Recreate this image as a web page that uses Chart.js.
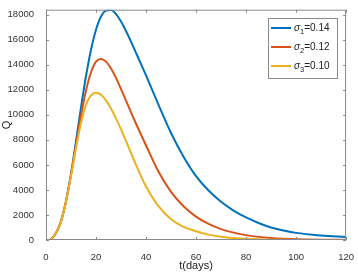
<!DOCTYPE html>
<html>
<head>
<meta charset="utf-8">
<script src="https://cdn.jsdelivr.net/npm/chart.js@4/dist/chart.umd.min.js"></script>
<style>
  html, body { margin: 0; padding: 0; background: #fff; }
  #wrap { width: 358px; height: 273px; }
</style>
</head>
<body>
<div id="wrap"><canvas id="q"></canvas></div>
<script>
// time axis (days) and Q for the three sigma values
const days = [0, 1, 2, 4, 6, 8, 10, 12, 14, 16, 18, 20, 22, 24, 26, 28, 30, 32, 34, 36, 38, 40,
              45, 50, 55, 60, 65, 70, 75, 80, 85, 90, 95, 100, 110, 120];
const q1 = [0, 0, 60, 560, 1500, 3100, 5300, 7900, 10600, 13100, 15200, 16800, 17850, 18330, 18380, 18050, 17450, 16700, 15850, 14950, 14050, 13150,
            10800, 8550, 6650, 5100, 3950, 3050, 2350, 1800, 1360, 1000, 760, 570, 360, 230];
const q2 = [0, 0, 60, 560, 1500, 3100, 5200, 7600, 9950, 11950, 13400, 14250, 14470, 14250, 13700, 12950, 12050, 11130, 10200, 9290, 8420, 7550,
            5450, 3850, 2700, 1870, 1280, 870, 590, 390, 250, 160, 100, 62, 25, 10];
const q3 = [0, 0, 60, 560, 1480, 3050, 5100, 7350, 9350, 10800, 11550, 11770, 11600, 11150, 10500, 9700, 8850, 7900, 6950, 6000, 5100, 4280,
            2700, 1650, 1050, 700, 430, 260, 155, 90, 50, 28, 15, 8, 2, 1];
const sigmaNames = ['1', '2', '3'];
const sigmaValues = ['0.14', '0.12', '0.10'];
const colors = ['#0072BD', '#D95319', '#EDB120'];
const xTicks = [0, 20, 40, 60, 80, 100, 120];
const yTicks = [0, 2000, 4000, 6000, 8000, 10000, 12000, 14000, 16000, 18000];

const series = [q1, q2, q3];

const boxPlugin = {
    id: 'matlabBox',
    afterDraw(chart) {
        const ctx = chart.ctx;
        const a = chart.chartArea;
        const xs = chart.scales.x, ys = chart.scales.y;
        ctx.save();
        ctx.strokeStyle = '#8a8a8a';
        ctx.lineWidth = 1;
        ctx.strokeRect(a.left + 0.5, a.top + 0.5, a.right - a.left - 1, a.bottom - a.top - 1);
        ctx.beginPath();
        xTicks.forEach(v => {
            const px = Math.round(xs.getPixelForValue(v)) + 0.5;
            ctx.moveTo(px, a.bottom); ctx.lineTo(px, a.bottom - 3);
            ctx.moveTo(px, a.top); ctx.lineTo(px, a.top + 3);
        });
        yTicks.forEach(v => {
            const py = Math.round(ys.getPixelForValue(v)) + 0.5;
            ctx.moveTo(a.left, py); ctx.lineTo(a.left + 3, py);
            ctx.moveTo(a.right, py); ctx.lineTo(a.right - 3, py);
        });
        ctx.stroke();

        // legend
        const lx = 268, ly = 18, lw = 69, lh = 60;
        ctx.fillStyle = '#fff';
        ctx.fillRect(lx, ly, lw, lh);
        ctx.strokeStyle = '#8a8a8a';
        ctx.strokeRect(lx + 0.5, ly + 0.5, lw, lh);
        for (let i = 0; i < 3; i++) {
            const cy = 28 + i * 19;
            ctx.strokeStyle = colors[i];
            ctx.lineWidth = 2;
            ctx.beginPath();
            ctx.moveTo(271, cy); ctx.lineTo(291, cy);
            ctx.stroke();
            ctx.fillStyle = '#222';
            ctx.textBaseline = 'middle';
            ctx.textAlign = 'left';
            ctx.font = 'italic 10px "Liberation Sans", Arial, sans-serif';
            ctx.fillText('σ', 294, cy);
            let x = 294 + ctx.measureText('σ').width;
            ctx.font = '7.5px "Liberation Sans", Arial, sans-serif';
            ctx.fillText(sigmaNames[i], x, cy + 4);
            x += ctx.measureText(sigmaNames[i]).width;
            ctx.font = '10px "Liberation Sans", Arial, sans-serif';
            ctx.fillText('=' + sigmaValues[i], x, cy);
        }
        ctx.restore();
    }
};

const ctx = document.getElementById('q').getContext('2d');
new Chart(ctx, {
    type: 'line',
    data: {
        datasets: series.map((s, i) => ({
            label: 'σ' + sigmaNames[i] + '=' + sigmaValues[i],
            data: days.map((d, j) => ({x: d, y: s[j]})),
            borderColor: colors[i],
            borderWidth: 2,
            pointRadius: 0,
            fill: false,
            cubicInterpolationMode: 'monotone'
        })).reverse()
    },
    options: {
        responsive: true,
        maintainAspectRatio: false,
        animation: false,
        layout: {padding: {top: 1, right: 9, left: 0, bottom: 0}},
        plugins: {
            legend: {display: false},
            tooltip: {enabled: false}
        },
        scales: {
            x: {
                type: 'linear',
                min: 0,
                max: 120,
                grid: {display: false},
                border: {display: false},
                afterBuildTicks: s => { s.ticks = xTicks.map(v => ({value: v})); },
                afterFit: s => { s.height = 33; },
                ticks: {
                    color: '#333',
                    padding: 4,
                    maxRotation: 0,
                    callback: v => String(v),
                    font: {family: '"Liberation Sans", Arial, sans-serif', size: 9.5}
                },
                title: {
                    display: true,
                    text: 't(days)',
                    color: '#222',
                    padding: {top: 1, bottom: 0},
                    font: {family: '"Liberation Sans", Arial, sans-serif', size: 11}
                }
            },
            y: {
                min: 0,
                max: 18400,
                grid: {display: false},
                border: {display: false},
                afterBuildTicks: s => { s.ticks = yTicks.map(v => ({value: v})); },
                afterFit: s => { s.width = 46; },
                ticks: {
                    color: '#333',
                    padding: 4,
                    callback: v => String(v),
                    font: {family: '"Liberation Sans", Arial, sans-serif', size: 9.5}
                },
                title: {
                    display: true,
                    text: 'Q',
                    color: '#222',
                    padding: {top: 0, bottom: 0},
                    font: {family: '"Liberation Sans", Arial, sans-serif', size: 11}
                }
            }
        }
    },
    plugins: [boxPlugin]
});
</script>
</body>
</html>
